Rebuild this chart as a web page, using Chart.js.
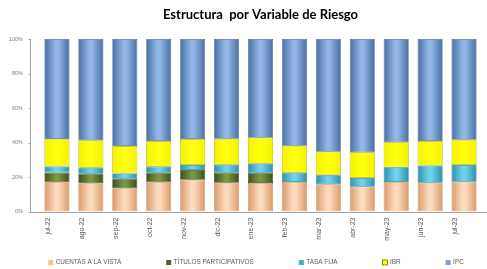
<!DOCTYPE html>
<html>
<head>
<meta charset="utf-8">
<script src="https://cdn.jsdelivr.net/npm/chart.js@4/dist/chart.umd.min.js"></script>
<style>
html,body{margin:0;padding:0;background:#fff;}
#wrap{width:487px;height:269px;position:relative;}
</style>
</head>
<body>
<div id="wrap"><canvas id="c" width="487" height="269"></canvas></div>
<script>
const categories = ['jul-22','ago-22','sep-22','oct-22','nov-22','dic-22','ene-23','feb-23','mar-23','abr-23','may-23','jun-23','jul-23'];
const cuentasVista = [17.0, 16.3, 13.4, 17.0, 18.4, 16.7, 16.5, 17.1, 15.8, 14.4, 17.1, 16.7, 17.3];
const titulosPart  = [5.6, 5.6, 5.6, 5.5, 5.7, 5.8, 6.0, 0, 0, 0, 0, 0, 0];
const tasaFija     = [3.5, 3.5, 3.1, 3.5, 2.9, 4.6, 5.2, 5.4, 5.2, 5.0, 8.5, 9.9, 9.7];
const ibr          = [16.0, 15.9, 15.9, 14.9, 15.0, 15.1, 15.1, 15.6, 13.7, 14.9, 14.5, 14.3, 14.6];
const ipc          = [57.9, 58.7, 62.0, 59.1, 58.0, 57.8, 57.2, 61.9, 65.3, 65.7, 59.9, 59.1, 58.4];
const seriesNames  = ['CUENTAS A LA VISTA', 'TÍTULOS PARTICIPATIVOS', 'TASA FIJA', 'IBR', 'IPC'];
const yTicks       = [0, 20, 40, 60, 80, 100];

const palettes = [
  {edge:'#D9996A', mid:'#FDDCBE', border:'#C98D60', legend:'#FAC090'},
  {edge:'#3E4E1E', mid:'#7A9640', border:'#3A4A1C', legend:'#4F6228'},
  {edge:'#2E8FAA', mid:'#6FD2EC', border:'#2A7F98', legend:'#4BACC6'},
  {edge:'#F2F200', mid:'#FFFF10', border:'#A8A800', legend:'#FFFF00'},
  {edge:'#4A6EA3', mid:'#92B6E6', border:'#4A6A9A', legend:'#7F9FCF'}
];
const BAR_PCT = 0.74;

function gradFor(i){
  return function(ctx){
    const chart = ctx.chart;
    const p = palettes[i];
    const xs = chart.scales && chart.scales.x;
    if (!chart.chartArea || !xs || ctx.dataIndex === undefined) return p.legend;
    const cx = xs.getPixelForValue(ctx.dataIndex);
    const w = (chart.chartArea.right - chart.chartArea.left) / categories.length * BAR_PCT;
    const g = chart.ctx.createLinearGradient(cx - w/2, 0, cx + w/2, 0);
    g.addColorStop(0, p.edge);
    g.addColorStop(0.45, p.mid);
    g.addColorStop(0.55, p.mid);
    g.addColorStop(1, p.edge);
    return g;
  };
}

const values = [cuentasVista, titulosPart, tasaFija, ibr, ipc];
const datasets = values.map((v, i) => ({
  label: seriesNames[i],
  data: v,
  backgroundColor: gradFor(i),
  borderColor: palettes[i].border,
  borderWidth: 0.7,
  borderSkipped: false,
  barPercentage: BAR_PCT,
  categoryPercentage: 1.0
}));

const frame = {
  id: 'frame',
  beforeDatasetsDraw(chart){
    const {ctx, chartArea} = chart;
    ctx.save();
    ctx.strokeStyle = '#A6A6A6';
    ctx.lineWidth = 1;
    ctx.beginPath();
    const lx = Math.round(chartArea.left - 10.5) + 0.5;
    const by = Math.round(chartArea.bottom) + 0.5;
    ctx.moveTo(lx, chartArea.top);
    ctx.lineTo(lx, by);
    ctx.lineTo(chart.width, by);
    ctx.stroke();
    const ys = chart.scales.y;
    ctx.beginPath();
    yTicks.forEach(t => {
      const y = Math.round(ys.getPixelForValue(t)) + 0.5;
      ctx.moveTo(lx - 2, y);
      ctx.lineTo(lx, y);
    });
    ctx.stroke();
    ctx.restore();
  },
  afterDraw(chart){
    const ctx = chart.ctx;
    ctx.save();
    ctx.font = '6.4px "Liberation Sans", Arial, sans-serif';
    ctx.textBaseline = 'middle';
    const box = 5, gapBox = 2.5, gapItem = 45;
    const widths = seriesNames.map(n => box + gapBox + ctx.measureText(n).width);
    const total = widths.reduce((a,b)=>a+b,0) + gapItem*(seriesNames.length-1);
    let x = 256 - total/2;
    const y = 262.5;
    seriesNames.forEach((n, i) => {
      ctx.fillStyle = palettes[i].legend;
      ctx.fillRect(x, y - box/2, box, box);
      if (i === 3) { ctx.strokeStyle = '#6B6B00'; ctx.lineWidth = 0.8; ctx.strokeRect(x, y - box/2, box, box); }
      ctx.fillStyle = '#595959';
      ctx.fillText(n, x + box + gapBox, y);
      x += widths[i] + gapItem;
    });
    ctx.restore();
  }
};

new Chart(document.getElementById('c'), {
  type: 'bar',
  data: { labels: categories, datasets },
  options: {
    responsive: false,
    animation: false,
    devicePixelRatio: 1,
    layout: { padding: { left: 0, right: 6, top: 0, bottom: 0 } },
    plugins: {
      legend: { display: false },
      tooltip: { enabled: false },
      title: {
        display: true,
        fullSize: false,
        text: 'Estructura  por Variable de Riesgo',
        color: '#000000',
        font: { family: 'Lato, "Liberation Sans", sans-serif', size: 13, weight: 'bold' },
        padding: { top: 7, bottom: 16.4 }
      }
    },
    scales: {
      x: {
        stacked: true,
        grid: { display: false, drawTicks: false },
        border: { display: false },
        ticks: {
          maxRotation: 90, minRotation: 90, autoSkip: false,
          padding: 6, labelOffset: -9,
          color: '#595959',
          font: { family: '"Liberation Sans", Arial, sans-serif', size: 7 }
        },
        afterFit(s){ s.height = 57.5; }
      },
      y: {
        stacked: true,
        min: 0, max: 100,
        grid: { display: false, drawTicks: false },
        border: { display: false },
        afterBuildTicks(s){ s.ticks = yTicks.map(v => ({value: v})); },
        ticks: {
          padding: 17,
          color: '#7F7F7F',
          font: { family: '"Liberation Sans", Arial, sans-serif', size: 5.5 },
          callback: v => v + '%'
        },
        afterFit(s){ s.width = 40; }
      }
    }
  },
  plugins: [frame]
});
</script>
</body>
</html>
